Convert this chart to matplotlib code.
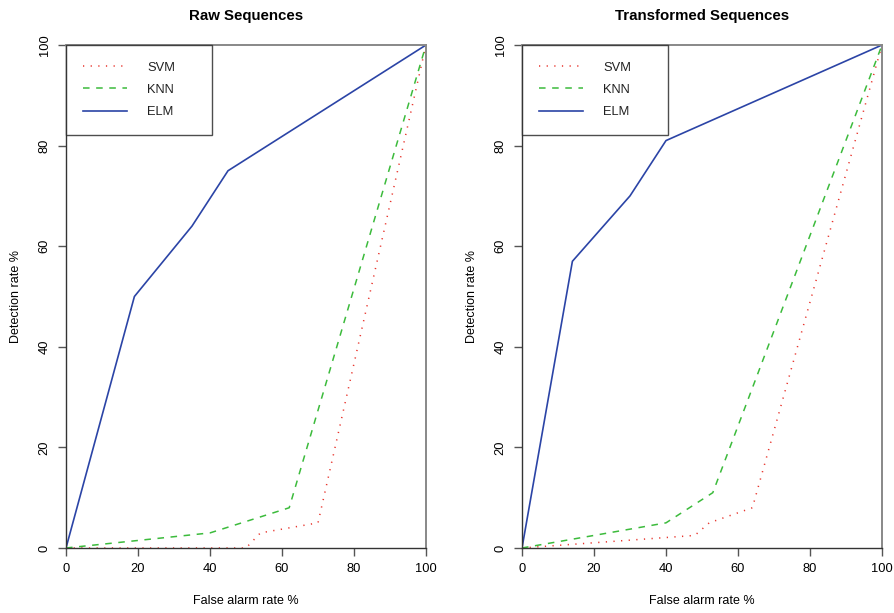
import matplotlib
matplotlib.use("Agg")
import matplotlib.pyplot as plt

plt.rcParams['font.family'] = ['Liberation Sans', 'DejaVu Sans']

titles = ["Raw Sequences", "Transformed Sequences"]
series_names = ["SVM", "KNN", "ELM"]

raw_svm_x = [0, 50, 54, 70, 100]
raw_svm_y = [0, 0, 3, 5, 100]
raw_knn_x = [0, 40, 62, 100]
raw_knn_y = [0, 3, 8, 100]
raw_elm_x = [0, 19, 35, 45, 100]
raw_elm_y = [0, 50, 64, 75, 100]

tr_svm_x = [0, 48, 52, 64, 100]
tr_svm_y = [0, 2.5, 5, 8, 100]
tr_knn_x = [0, 40, 53, 100]
tr_knn_y = [0, 5, 11, 100]
tr_elm_x = [0, 14, 30, 40, 100]
tr_elm_y = [0, 57, 70, 81, 100]

ticks = [0, 20, 40, 60, 80, 100]
xlabel = "False alarm rate %"
ylabel = "Detection rate %"

colors = {"SVM": "#E8342C", "KNN": "#3CBB3C", "ELM": "#2B44A6"}

W, H = 895, 613
fig = plt.figure(figsize=(W / 100, H / 100), dpi=100)

panels = [
    (66, {"SVM": (raw_svm_x, raw_svm_y), "KNN": (raw_knn_x, raw_knn_y), "ELM": (raw_elm_x, raw_elm_y)}),
    (522, {"SVM": (tr_svm_x, tr_svm_y), "KNN": (tr_knn_x, tr_knn_y), "ELM": (tr_elm_x, tr_elm_y)}),
]

for (left_px, data), title in zip(panels, titles):
    ax = fig.add_axes([left_px / W, (H - 548) / H, 360 / W, 503 / H])
    x, y = data["SVM"]
    ax.plot(x, y, color=colors["SVM"], lw=1.1, dashes=(0.8, 4.2), label="SVM", solid_capstyle="butt")
    x, y = data["KNN"]
    ax.plot(x, y, color=colors["KNN"], lw=1.1, dashes=(4.3, 4.3), label="KNN")
    x, y = data["ELM"]
    ax.plot(x, y, color=colors["ELM"], lw=1.2, label="ELM")
    ax.set_xlim(0, 100)
    ax.set_ylim(0, 100)
    ax.set_xticks(ticks)
    ax.set_yticks(ticks)
    ax.set_xticklabels([str(t) for t in ticks], fontsize=9.3)
    ax.set_yticklabels([str(t) for t in ticks], fontsize=9.3, rotation=90, va="center")
    ax.tick_params(direction="out", length=6, width=1, color="#555555", pad=5)
    for s in ["top", "right"]:
        ax.spines[s].set_color("#888888")
        ax.spines[s].set_linewidth(1.4)
    for s in ["left", "bottom"]:
        ax.spines[s].set_color("#333333")
        ax.spines[s].set_linewidth(1.0)
    ax.set_title(title, fontsize=10.8, fontweight="bold", pad=18)
    ax.set_xlabel(xlabel, fontsize=9, labelpad=14)
    ax.set_ylabel(ylabel, fontsize=9, labelpad=12)
    leg = ax.legend(loc="upper left", bbox_to_anchor=(0, 1 - 90 / 503, 146 / 360, 90 / 503),
                    mode="expand", borderaxespad=0, fancybox=False, frameon=True,
                    edgecolor="#222222", fontsize=9.3, handlelength=3.4, handletextpad=1.6,
                    labelspacing=0.78, borderpad=1.3)
    leg.get_frame().set_linewidth(1.0)
    for t in leg.get_texts():
        t.set_color("#222222")

fig.savefig("out.png", dpi=100)
